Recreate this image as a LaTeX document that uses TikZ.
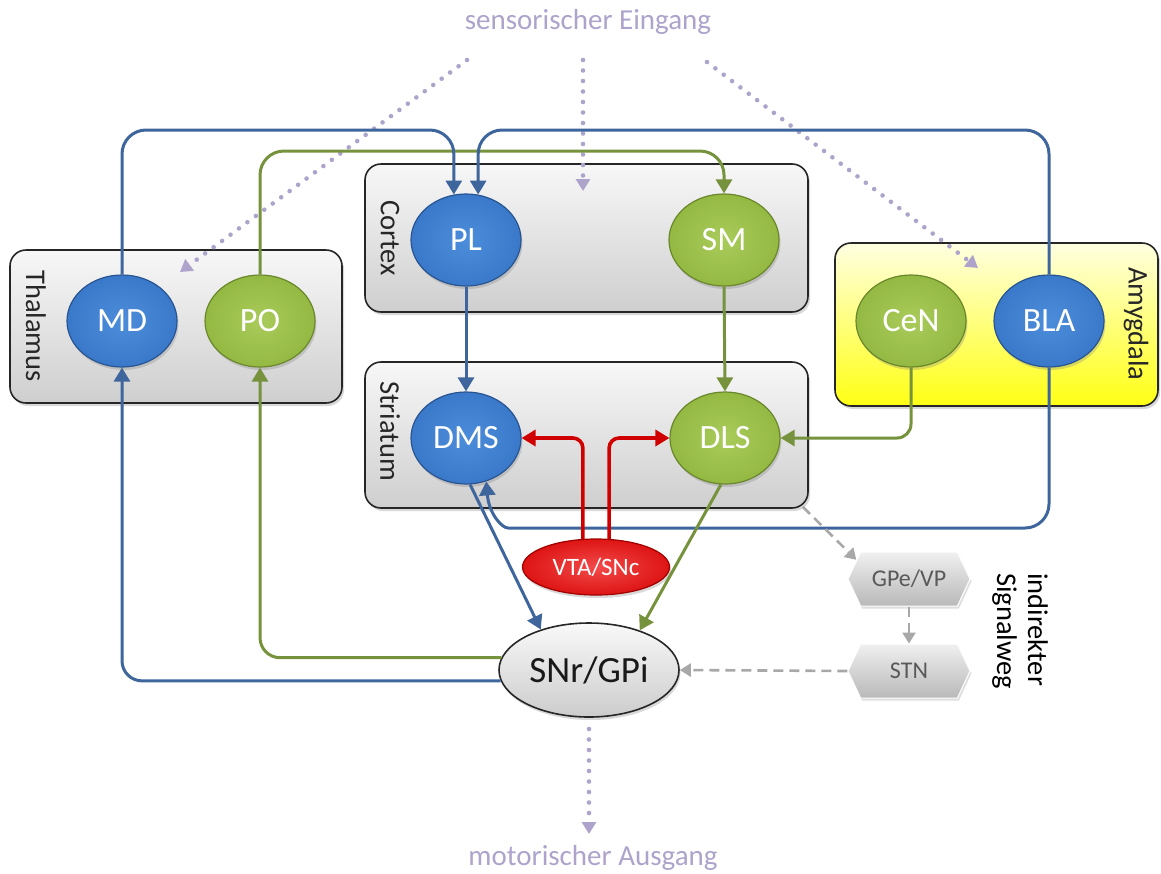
\documentclass[tikz,border=0pt]{standalone}
\usepackage{fontspec}
\setmainfont{Carlito}
\usetikzlibrary{shapes.geometric,shapes.symbols,shadows,arrows.meta}

\definecolor{nucblue}{HTML}{3A79C9}
\definecolor{nucbluein}{HTML}{4C8DDB}
\definecolor{nucblueedge}{HTML}{285592}
\definecolor{nucgreen}{HTML}{94B943}
\definecolor{nucgreenin}{HTML}{A9CB5A}
\definecolor{nucgreenedge}{HTML}{6A872C}
\definecolor{nucred}{HTML}{DE1414}
\definecolor{nucredin}{HTML}{F24A4A}
\definecolor{nucrededge}{HTML}{A00000}
\definecolor{pathblue}{HTML}{3E659C}
\definecolor{pathgreen}{HTML}{76923C}
\definecolor{pathred}{HTML}{D00000}
\definecolor{lav}{HTML}{ADA3CB}
\definecolor{indgray}{HTML}{A8A8A8}

\newcommand\nucfont{\fontsize{34}{36}\selectfont}
\newcommand\labfont{\fontsize{28.5}{31}\selectfont}

\begin{document}
\begin{tikzpicture}[x=1pt,y=-1pt,
  region/.style={draw=black!85, line width=1.6pt, rounded corners=16pt,
    top color=gray!6, bottom color=gray!38,
    drop shadow={opacity=0.3, shadow xshift=2pt, shadow yshift=-3pt}},
  amyregion/.style={region, top color=yellow!12, bottom color=yellow!92!white},
  regionlabel/.style={rotate=-90, font=\labfont, text=black!85},
  nucleus/.style={ellipse, minimum width=110pt, minimum height=92pt, inner sep=0pt,
    text=white, font=\nucfont, line width=1.2pt,
    drop shadow={opacity=0.3, shadow xshift=1.5pt, shadow yshift=-3pt}},
  bluenuc/.style={nucleus, inner color=nucbluein, outer color=nucblue, draw=nucblueedge},
  greennuc/.style={nucleus, inner color=nucgreenin, outer color=nucgreen, draw=nucgreenedge},
  hexnode/.style={signal, signal to=east and west, signal pointer angle=130,
    minimum width=122pt, minimum height=54pt, inner sep=0pt,
    top color=gray!12, bottom color=gray!55, draw=white, line width=1pt,
    text=black!65, font=\fontsize{24}{26}\selectfont,
    drop shadow={opacity=0.25, shadow xshift=1.5pt, shadow yshift=-2.5pt}},
  tip/.style={-{Triangle[length=14pt,width=16pt]}},
  bluepath/.style={tip, draw=pathblue, line width=3pt},
  greenpath/.style={tip, draw=pathgreen, line width=3pt},
  redpath/.style={tip, draw=pathred, line width=3.6pt},
  indpath/.style={draw=indgray, line width=2.6pt, dash pattern=on 10pt off 6pt,
    -{Triangle[length=11pt,width=13pt]}},
  dotpath/.style={draw=lav, line width=4.6pt, line cap=round, dash pattern=on 0pt off 10.5pt,
    -{Triangle[length=12pt,width=14pt]}},
  flowlabel/.style={text=lav, font=\fontsize{29}{31}\selectfont}
]
\useasboundingbox (0,0) rectangle (1161,873);

% brain regions
\node[region, minimum width=332pt, minimum height=153pt] (thal) at (176,326.5) {};
\node[region, minimum width=443pt, minimum height=148pt] (cort) at (586.5,238) {};
\node[region, minimum width=443pt, minimum height=146pt] (stri) at (586.5,435) {};
\node[amyregion, minimum width=323pt, minimum height=163pt] (amy) at (996.5,324.5) {};

\node[regionlabel] (thallab) at (36,326) {Thalamus};
\node[regionlabel] (cortlab) at (390,238) {Cortex};
\node[regionlabel] (strilab) at (390,431) {Striatum};
\node[regionlabel] (amylab) at (1136,324) {Amygdala};

% nuclei
\node[bluenuc] (MD) at (122,321) {MD};
\node[greennuc] (PO) at (260,321) {PO};
\node[bluenuc] (PL) at (466,240) {PL};
\node[greennuc] (SM) at (724,240) {SM};
\node[bluenuc] (DMS) at (466,438) {DMS};
\node[greennuc] (DLS) at (725,438) {DLS};
\node[greennuc] (CeN) at (911,321) {CeN};
\node[bluenuc] (BLA) at (1049,321) {BLA};

\node[ellipse, minimum width=147pt, minimum height=56pt, inner sep=0pt,
  inner color=nucredin, outer color=nucred, draw=nucrededge, line width=1.2pt,
  text=white, font=\fontsize{25}{27}\selectfont,
  drop shadow={opacity=0.3, shadow xshift=1.5pt, shadow yshift=-3pt}] (VTA) at (596,567) {VTA/SNc};

\node[ellipse, minimum width=180pt, minimum height=94pt, inner sep=0pt,
  top color=gray!5, bottom color=gray!40, draw=black!85, line width=1.6pt,
  text=black!90, font=\fontsize{37}{39}\selectfont,
  drop shadow={opacity=0.3, shadow xshift=1.5pt, shadow yshift=-3pt}] (SNr) at (589,670) {SNr/GPi};

\node[hexnode] (GPe) at (909,579) {GPe/VP};
\node[hexnode] (STN) at (909,671) {STN};

% labels
\node[flowlabel] (sens) at (588,22) {sensorischer Eingang};
\node[flowlabel] (mot) at (593,858) {motorischer Ausgang};
\node[regionlabel, align=left, text=black] (indlab) at (1020,631) {indirekter\\Signalweg};

% sensory input and motor output
\coordinate (s1) at (467,60);  \coordinate (e1) at (180,272);
\coordinate (s2) at (583,60);  \coordinate (e2) at (583,191);
\coordinate (s3) at (707,62);  \coordinate (e3) at (978,268);
\coordinate (o1) at (589,729); \coordinate (o2) at (589,834);
\draw[dotpath] (s1) -- (e1);
\draw[dotpath] (s2) -- (e2);
\draw[dotpath] (s3) -- (e3);
\draw[dotpath] (o1) -- (o2);

% projections to cortex
\coordinate (levelB) at (0,130);
\coordinate (levelG) at (0,151);
\draw[greenpath, rounded corners=24pt] (PO.north) |- (levelG -| SM.north) -- (SM.north);
\draw[bluepath, rounded corners=24pt] (MD.north) |- (levelB -| PL.105) -- (PL.105);
\draw[bluepath, rounded corners=24pt] (BLA.north) |- (levelB -| PL.75) -- (PL.75);

% cortex to striatum
\draw[bluepath] (PL.south) -- (DMS.north);
\draw[greenpath] (SM.south) -- (DLS.north);

% amygdala to striatum
\draw[greenpath, rounded corners=14pt] (CeN.south) |- (DLS.east);
\coordinate (bendB) at (532,528);
\draw[bluepath] (BLA.south) [rounded corners=24pt] |- (bendB) [sharp corners]
  .. controls (502,528) and (489,514) .. (DMS.-65);

% dopaminergic input
\draw[redpath, rounded corners=10pt] (VTA.115) |- (DMS.east);
\draw[redpath, rounded corners=10pt] (VTA.65) |- (DLS.west);

% striatal output
\draw[bluepath] (DMS.-85) -- (SNr.140);
\draw[greenpath] (DLS.-95) -- (SNr.38);

% return to thalamus
\draw[greenpath, rounded corners=20pt] (SNr.172) -| (PO.south);
\draw[bluepath, rounded corners=20pt] (SNr.187) -| (MD.south);

% indirect pathway
\draw[indpath] ([xshift=-6pt,yshift=2pt]stri.south east) -- (GPe.160);
\draw[indpath] (GPe.south) -- (STN.north);
\draw[indpath] (STN.west) -- (SNr.east);
\end{tikzpicture}
\end{document}
